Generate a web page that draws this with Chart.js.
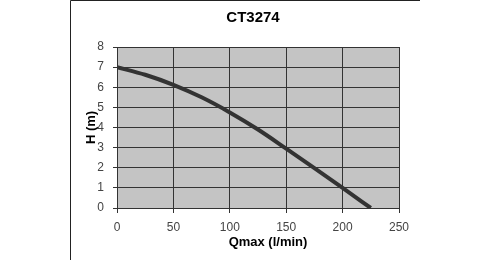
<!DOCTYPE html>
<html><head><meta charset="utf-8">
<script src="https://cdn.jsdelivr.net/npm/chart.js@4/dist/chart.umd.min.js"></script>
<style>html,body{margin:0;padding:0;background:#fff;}canvas{display:block;}</style>
</head><body>
<canvas id="c" width="490" height="280"></canvas>
<script>
const chartTitle = 'CT3274';
const xAxisTitle = 'Qmax (l/min)';
const yAxisTitle = 'H (m)';
const flowValues = [0, 25, 50, 75, 100, 125, 150, 175, 200, 225];
const headValues = [7.0, 6.62, 6.12, 5.5, 4.75, 3.9, 2.95, 1.98, 1.0, 0.0];
const xTicks = [0, 50, 100, 150, 200, 250];
const yTicks = [0, 1, 2, 3, 4, 5, 6, 7, 8];

const points = flowValues.map((q, i) => ({x: q, y: headValues[i]}));
const gridColor = '#333333';
const fontFamily = 'Liberation Sans, Arial, sans-serif';

const bgPlugin = {
  id: 'bg',
  beforeDraw(chart) {
    const {ctx, chartArea: a} = chart;
    ctx.save();
    ctx.fillStyle = '#c4c4c4';
    ctx.fillRect(a.left, a.top, a.right - a.left, a.bottom - a.top);
    ctx.strokeStyle = '#222';
    ctx.lineWidth = 1;
    ctx.beginPath();
    ctx.moveTo(70.5, 260);
    ctx.lineTo(70.5, 0.5);
    ctx.lineTo(420, 0.5);
    ctx.stroke();
    ctx.restore();
  },
  afterDraw(chart) {
    const {ctx} = chart;
    ctx.save();
    ctx.fillStyle = '#000';
    ctx.textAlign = 'center';
    ctx.textBaseline = 'middle';
    ctx.font = 'bold 15px ' + fontFamily;
    ctx.fillText(chartTitle, 253, 18);
    ctx.font = 'bold 13px ' + fontFamily;
    ctx.fillText(xAxisTitle, 268, 242);
    ctx.restore();
  }
};

new Chart(document.getElementById('c'), {
  type: 'line',
  data: {
    datasets: [{
      data: points,
      borderColor: '#333333',
      borderWidth: 4,
      pointRadius: 0,
      cubicInterpolationMode: 'monotone',
      fill: false
    }]
  },
  options: {
    responsive: false,
    devicePixelRatio: 1,
    animation: false,
    layout: {padding: {left: 0, right: 91, top: 47, bottom: 0}},
    plugins: {
      legend: {display: false},
      tooltip: {enabled: false},
      title: {display: false}
    },
    scales: {
      x: {
        type: 'linear',
        min: 0, max: 250,
        afterBuildTicks(s) { s.ticks = xTicks.map(v => ({value: v})); },
        afterFit(s) { s.height = 72; },
        ticks: {
          color: '#444',
          font: {family: fontFamily, size: 12},
          padding: 7,
          maxRotation: 0
        },
        grid: {color: gridColor, lineWidth: 1, drawTicks: true, tickLength: 5, tickColor: gridColor},
        border: {display: true, color: gridColor, width: 1}
      },
      y: {
        type: 'linear',
        min: 0, max: 8,
        afterBuildTicks(s) { s.ticks = yTicks.map(v => ({value: v})); },
        afterFit(s) { s.width = 117; },
        ticks: {
          color: '#444',
          font: {family: fontFamily, size: 12},
          padding: 9
        },
        grid: {color: gridColor, lineWidth: 1, drawTicks: true, tickLength: 4, tickColor: gridColor},
        border: {display: true, color: gridColor, width: 1},
        title: {
          display: true,
          text: yAxisTitle,
          color: '#000',
          font: {family: fontFamily, size: 13, weight: 'bold', lineHeight: 1.2},
          padding: {top: 83.7, bottom: 0}
        }
      }
    }
  },
  plugins: [bgPlugin]
});
</script>
</body></html>
